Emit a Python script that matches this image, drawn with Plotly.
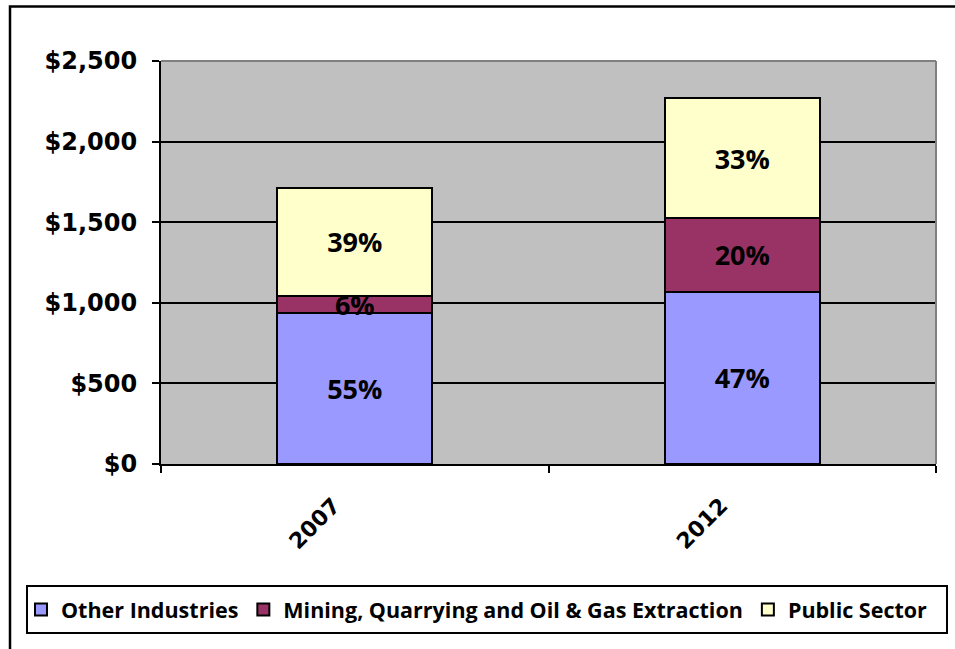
import plotly.graph_objects as go

# Stacked totals by industry group (millions of dollars)
years = ["2007", "2012"]
other_industries = [939, 1070]
mining_oil_gas = [106, 454]
public_sector = [665, 746]

series_names = ["Other Industries", "Mining, Quarrying and Oil & Gas Extraction", "Public Sector"]
series_values = [other_industries, mining_oil_gas, public_sector]
series_colors = ["#9999FF", "#993366", "#FFFFCC"]

y_ticks = [0, 500, 1000, 1500, 2000, 2500]
y_tick_labels = ["$0", "$500", "$1,000", "$1,500", "$2,000", "$2,500"]

totals = [sum(v[i] for v in series_values) for i in range(len(years))]

fig = go.Figure()
for name, vals, color in zip(series_names, series_values, series_colors):
    pct = [f"{round(100 * v / t)}%" for v, t in zip(vals, totals)]
    fig.add_trace(go.Bar(
        x=years, y=vals, name=name,
        marker=dict(color=color, line=dict(color="black", width=2)),
        text=pct, textposition="inside", insidetextanchor="middle",
        textangle=0, constraintext="none",
        textfont=dict(family="Open Sans", size=27, color="black", weight="bold"),
        hoverinfo="skip",
    ))

# Plot-area geometry in pixels, used to place the frame and legend box
W, H = 955, 649
L, R, T, B = 161, 19, 61, 185
pw, ph = W - L - R, H - T - B


def px(x):
    return (x - L) / pw


def py(y):
    return (H - B - y) / ph


shapes = [
    # gray plot-area border on the top and right edges
    dict(type="line", xref="paper", yref="paper", x0=0, x1=1, y0=1, y1=1,
         line=dict(color="#808080", width=2), layer="above"),
    dict(type="line", xref="paper", yref="paper", x0=1, x1=1, y0=0, y1=1,
         line=dict(color="#808080", width=2), layer="above"),
    # outer chart frame
    dict(type="rect", xref="paper", yref="paper", x0=px(10), x1=px(965),
         y0=py(660), y1=py(6.5), line=dict(color="black", width=2.5)),
    # legend box
    dict(type="rect", xref="paper", yref="paper", x0=px(27), x1=px(947),
         y0=py(633), y1=py(586), line=dict(color="black", width=2)),
]

fig.update_layout(
    width=W, height=H,
    margin=dict(l=L, r=R, t=T, b=B, pad=0, autoexpand=False),
    barmode="stack", bargap=0.6,
    paper_bgcolor="white", plot_bgcolor="#C0C0C0",
    showlegend=True,
    legend=dict(orientation="h", x=px(21), y=py(609.5), xanchor="left", yanchor="middle",
                font=dict(family="Open Sans", size=21.5, color="black", weight="bold"),
                traceorder="normal", bgcolor="rgba(0,0,0,0)"),
    shapes=shapes,
    xaxis=dict(
        type="category", showgrid=False, showline=True, linecolor="black", linewidth=2,
        ticks="outside", tickson="boundaries", ticklen=7, tickwidth=2, tickcolor="black",
        tickangle=-45, ticklabelstandoff=18, ticklabelshift=-21, automargin=False,
        tickfont=dict(family="DejaVu Sans", size=22, color="black", weight="bold"),
    ),
    yaxis=dict(
        range=[0, 2500], tickvals=y_ticks, ticktext=y_tick_labels,
        showgrid=True, gridcolor="black", gridwidth=2, zeroline=False,
        showline=True, linecolor="black", linewidth=2,
        ticks="outside", ticklen=7, tickwidth=2, tickcolor="black",
        ticklabelstandoff=10, automargin=False,
        tickfont=dict(family="DejaVu Sans", size=24, color="black", weight="bold"),
    ),
)

fig.write_html("out.html")
